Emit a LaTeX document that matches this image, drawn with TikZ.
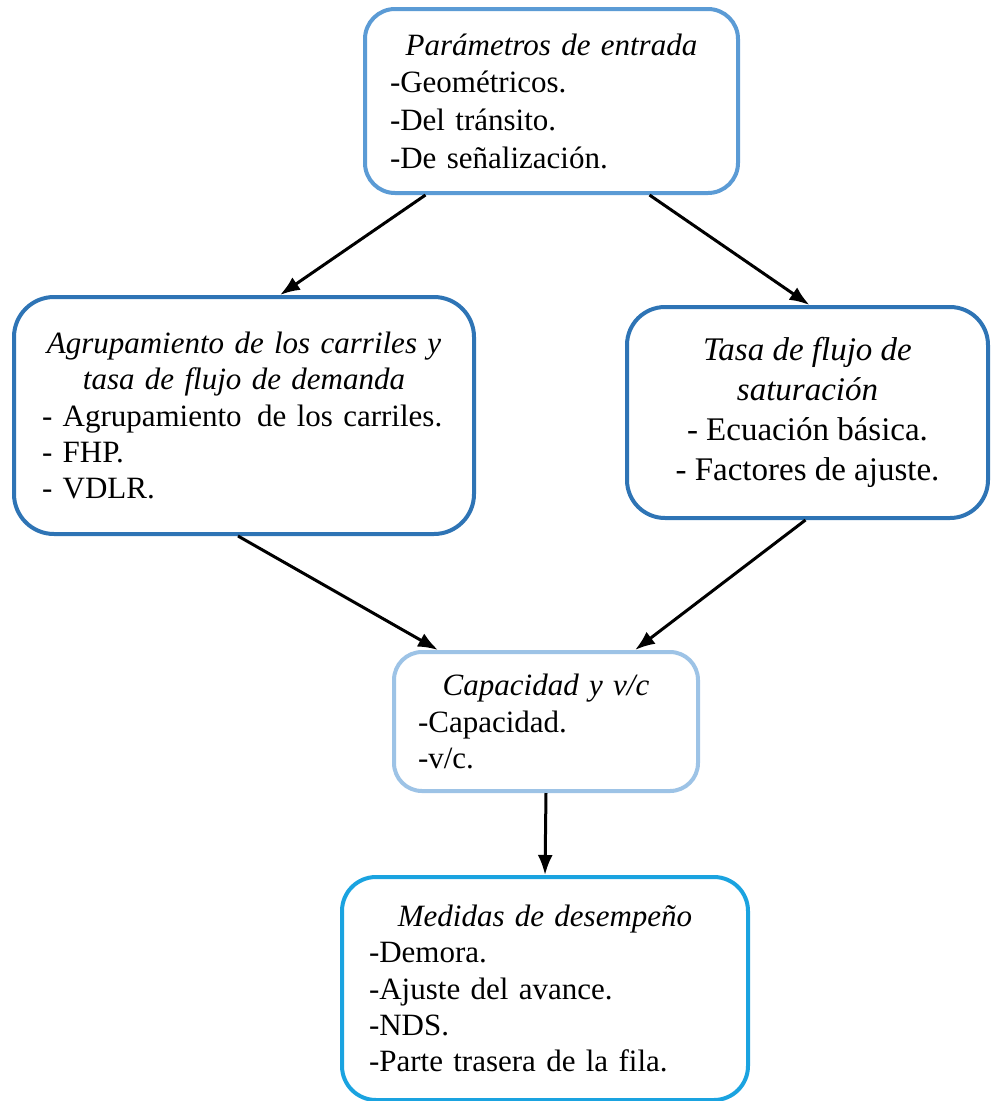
\documentclass[tikz,border=0pt]{standalone}
\usepackage{fontspec}
\setmainfont{Liberation Serif}
\usepackage{tikz}
\usetikzlibrary{arrows.meta}
\definecolor{azulA}{HTML}{5B9BD5}
\definecolor{azulB}{HTML}{2E74B5}
\definecolor{azulC}{HTML}{9DC3E6}
\definecolor{azulD}{HTML}{1AA3E0}
\newcommand{\titulo}[1]{\makebox[\hsize]{\itshape #1}}

\begin{document}
\begin{tikzpicture}[x=1pt, y=-1pt,
		caja/.style={draw, line width=4, rounded corners=30, fill=white, align=left, inner sep=0, font=\fontsize{31}{36.3}\selectfont},
		flecha/.style={black, line width=3, -{Latex[length=20,width=15]}}]
		\useasboundingbox (0,0) rectangle (993,1101);
%		
		\node[caja, draw=azulA, minimum width=373, minimum height=184, text width=323, font=\fontsize{31}{37.7}\selectfont] (entrada) at (551.5,101) {\titulo{Parámetros de entrada}\\-Geométricos.\\-Del tránsito.\\-De señalización.};
		\node[caja, draw=azulB, rounded corners=40, minimum width=460, minimum height=237, text width=404] (carriles) at (244,415.5) {\titulo{Agrupamiento de los carriles y}\\\titulo{tasa de flujo de demanda}\\\mbox{- Agrupamiento\,\ de los carriles.}\\- FHP.\\- VDLR.};
		\node[caja, draw=azulB, rounded corners=38, minimum width=361, minimum height=211, align=center, font=\fontsize{33}{40}\selectfont] (saturacion) at (807.5,412.5) {\textit{Tasa de flujo de}\\\textit{saturación}\\- Ecuación básica.\\- Factores de ajuste.};
%		
		\node[caja, draw=azulC, rounded corners=28, minimum width=304, minimum height=139, text width=256] (capacidad) at (546,721.5) {\titulo{Capacidad y v/c}\\-Capacidad.\\-v/c.};
		\node[caja, draw=azulD, rounded corners=34, minimum width=406, minimum height=223, text width=352] (medidas) at (545,988.5) {\titulo{Medidas de desempeño}\\-Demora.\\-Ajuste del avance.\\-NDS.\\-Parte trasera de la fila.};
%		
		\draw[flecha] ([xshift=-126]entrada.south) -- ([xshift=36]carriles.north);
		\draw[flecha] ([xshift=98]entrada.south) -- ([xshift=2]saturacion.north);
		\draw[flecha] ([xshift=-6]carriles.south) -- ([xshift=-108]capacidad.north);
		\draw[flecha] ([xshift=-2]saturacion.south) -- ([xshift=89]capacidad.north);
		\draw[flecha] (capacidad.south) -- (medidas.north); % vertical
\end{tikzpicture}
\end{document}
